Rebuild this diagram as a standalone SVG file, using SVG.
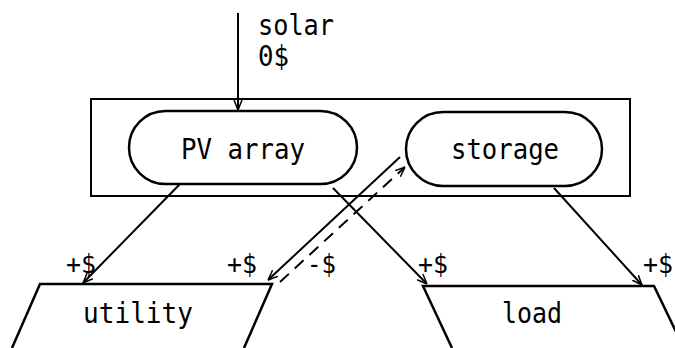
<svg xmlns="http://www.w3.org/2000/svg" width="675" height="348" viewBox="0 0 675 348">
<style>
text{font-family:"DejaVu Sans Mono","Liberation Mono",monospace;font-size:28px;fill:#000}
.lbl{font-size:27px}
.node{fill:#fff;stroke:#000;stroke-width:2.5}
.box{fill:none;stroke:#000;stroke-width:2}
.c{fill:none;stroke:#000;stroke-width:2}
.d{fill:none;stroke:#000;stroke-width:2;stroke-dasharray:12 8}
</style>
<defs>
<marker id="a" viewBox="0 0 10 10" refX="10" refY="5" markerWidth="10" markerHeight="10" markerUnits="userSpaceOnUse" orient="auto">
<path d="M0,1 L10,5 L0,9" fill="none" stroke="#000" stroke-width="1.5"/>
</marker>
</defs>
<rect width="675" height="348" fill="#fff"/>
<g id="system">
<rect class="box" x="91" y="99" width="539" height="97"/>
</g>
<g id="pv_array">
<rect class="node" x="129" y="111" width="228" height="73" rx="36.5"/>
<text x="243" y="159" text-anchor="middle" textLength="124" lengthAdjust="spacingAndGlyphs">PV array</text>
</g>
<g id="storage">
<rect class="node" x="406" y="112" width="196" height="74" rx="37"/>
<text x="505" y="159" text-anchor="middle" textLength="108" lengthAdjust="spacingAndGlyphs">storage</text>
</g>
<g id="utility">
<path class="node" d="M12,348 L40,284 L272,284 L244,348"/>
<text x="138" y="323" text-anchor="middle" textLength="110" lengthAdjust="spacingAndGlyphs">utility</text>
</g>
<g id="load">
<path class="node" d="M452,348 L423,286 L654,286 L680,340"/>
<text x="532" y="323" text-anchor="middle" textLength="60" lengthAdjust="spacingAndGlyphs">load</text>
</g>
<g id="connectors">
<line class="c" x1="238" y1="13" x2="238" y2="110" marker-end="url(#a)"/>
<line class="c" x1="180" y1="184" x2="83" y2="283" marker-end="url(#a)"/>
<line class="c" x1="400" y1="157" x2="268" y2="280" marker-end="url(#a)"/>
<line class="d" x1="280" y1="282" x2="405" y2="167" marker-end="url(#a)"/>
<line class="c" x1="333" y1="188" x2="427" y2="284" marker-end="url(#a)"/>
<line class="c" x1="554" y1="188" x2="642" y2="285" marker-end="url(#a)"/>
</g>
<g id="labels">
<text x="258" y="35" textLength="76" lengthAdjust="spacingAndGlyphs">solar</text>
<text x="258" y="66" textLength="31" lengthAdjust="spacingAndGlyphs">0$</text>
<text class="lbl" x="66" y="273" textLength="30" lengthAdjust="spacingAndGlyphs">+$</text>
<text class="lbl" x="227" y="273" textLength="30" lengthAdjust="spacingAndGlyphs">+$</text>
<text class="lbl" x="307" y="273" textLength="29" lengthAdjust="spacingAndGlyphs">-$</text>
<text class="lbl" x="418" y="273" textLength="30" lengthAdjust="spacingAndGlyphs">+$</text>
<text class="lbl" x="643" y="273" textLength="30" lengthAdjust="spacingAndGlyphs">+$</text>
</g>
</svg>
